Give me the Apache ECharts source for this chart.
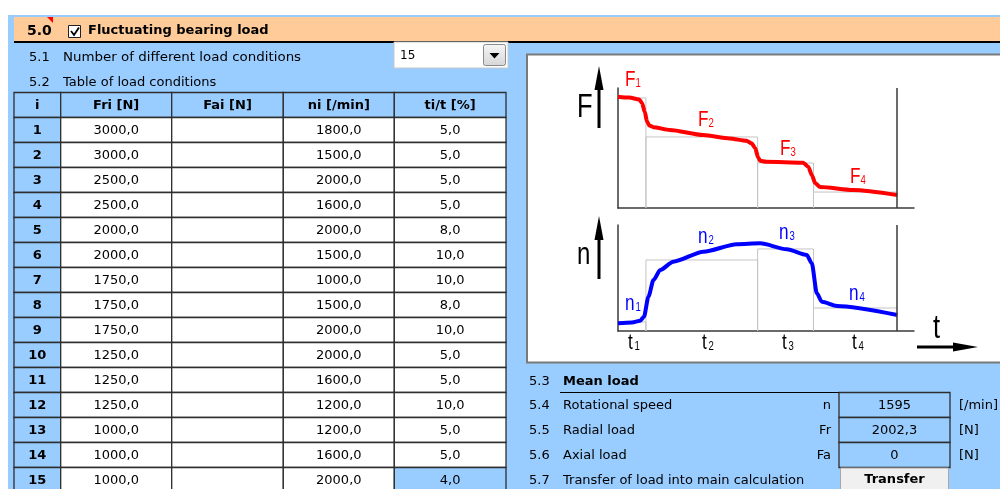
<!DOCTYPE html>
<html><head><meta charset="utf-8">
<script src="https://cdn.jsdelivr.net/npm/echarts/dist/echarts.min.js"></script>
<style>html,body{margin:0;padding:0;background:#fff}#c{width:1000px;height:489px}</style>
</head><body><div id="c"></div>
<script>
// ---------- data ----------
const headers = ['i', 'Fri [N]', 'Fai [N]', 'ni [/min]', 'ti/t [%]'];
const rowIndex = [1, 2, 3, 4, 5, 6, 7, 8, 9, 10, 11, 12, 13, 14, 15];
const radialLoads = [3000, 3000, 2500, 2500, 2000, 2000, 1750, 1750, 1750, 1250, 1250, 1250, 1000, 1000, 1000];
const axialLoads = [null, null, null, null, null, null, null, null, null, null, null, null, null, null, null];
const speeds = [1800, 1500, 2000, 1600, 2000, 1500, 1000, 1500, 2000, 2000, 1600, 1200, 1200, 1600, 2000];
const timeShares = [5, 5, 5, 5, 8, 10, 10, 8, 10, 5, 5, 10, 5, 5, 4];
const loadConditionCount = '15';

// schematic diagram (time in % of cycle, value in % of axis height)
const stepBounds = [0, 10, 50, 70, 100];
const forceLevels = [91.7, 59.2, 37.5, 13.3];
const speedLevels = [8.5, 67, 77.4, 21.7];
const forceCurve = [[0, 92.8], [4, 92], [7.6, 90.5], [8.6, 87.5], [9.6, 80], [10.4, 72], [11.2, 68.8], [12.7, 67.3], [18.6, 65], [30.5, 60.8], [40, 58], [46, 56], [47.8, 54], [49.1, 50], [50.2, 42], [50.9, 39.4], [53, 38.5], [66.3, 37.8], [68.1, 34.4], [69.5, 27], [70.6, 20.8], [72.4, 17.5], [84.2, 15], [100, 10.8]];
const speedCurve = [[0, 7.3], [5, 8], [7.9, 9.7], [9.3, 13.5], [10.9, 32.4], [12.7, 48.1], [15.1, 57.5], [19.8, 65.4], [30.6, 74.8], [42.5, 81.8], [50.9, 82.7], [60.5, 77.1], [67.6, 71.7], [69.4, 63.9], [71.2, 35.6], [73, 27.6], [78.4, 23.6], [100, 15.1]];
const phaseSubscripts = ['1', '2', '3', '4'];

// mean load results
const meanLabels = ['Rotational speed', 'Radial load', 'Axial load'];
const meanSymbols = ['n', 'Fr', 'Fa'];
const meanValues = ['1595', '2002,3', '0'];
const meanUnits = ['[/min]', '[N]', '[N]'];

// ---------- helpers ----------
const UI = "'DejaVu Sans', Verdana, sans-serif";
const NAR = "'Liberation Sans', Arial, sans-serif";
const BLUE = '#99CCFF', ORANGE = '#FFCC99', GRID = '#2e2e2e';
const G = [];
function rect(x, y, w, h, fill, stroke, lw, z) {
  G.push({type: 'rect', z: z == null ? -5 : z, shape: {x, y, width: w, height: h}, style: {fill, stroke: stroke || null, lineWidth: lw || 0}});
}
function line(x1, y1, x2, y2, stroke, lw, z) {
  G.push({type: 'line', z: z == null ? -4 : z, shape: {x1, y1, x2, y2}, style: {stroke, lineWidth: lw}});
}
function poly(points, fill, z) {
  G.push({type: 'polygon', z: z == null ? 6 : z, shape: {points}, style: {fill}});
}
function text(t, x, y, font, opts) {
  opts = opts || {};
  G.push({type: 'text', z: 8, x, y, scaleX: opts.sx || 1, style: {text: t, x: 0, y: 0, font, fill: opts.fill || '#000',
    textAlign: opts.align || 'left', align: opts.align || 'left', textVerticalAlign: 'middle', verticalAlign: 'middle'}});
}
const fmt1 = v => v == null ? '' : v.toFixed(1).replace('.', ',');

// ---------- background / header ----------
rect(8, 15, 992, 474, BLUE, null, 0, -10);
rect(14, 17, 986, 24, ORANGE, null, 0, -9);
line(14, 42, 1000, 42, '#000', 2, -8);
poly([[47, 17], [53, 17], [53, 23]], '#FF0000', 7);
text('5.0', 27, 31, 'bold 14px ' + UI);
rect(68.5, 25.5, 12, 12, '#fff', '#222', 1, 6);
G.push({type: 'polyline', z: 7, shape: {points: [[71, 31], [74, 35], [79, 27.5]]}, style: {stroke: '#000', lineWidth: 1.8, fill: null}});
text('Fluctuating bearing load', 88, 31, 'bold 13px ' + UI);

text('5.1', 29, 58, '13px ' + UI);
text('Number of different load conditions', 63, 58, '13px ' + UI, {sx: 1.03});
rect(394, 42, 114, 26, '#fff', '#c8c8c8', 1, -3);
text(loadConditionCount, 400, 56, '12px ' + UI);
G.push({type: 'rect', z: -2, shape: {x: 483.5, y: 44.5, width: 22, height: 21, r: 2},
  style: {fill: new echarts.graphic.LinearGradient(0, 0, 0, 1, [{offset: 0, color: '#f6f6f6'}, {offset: 1, color: '#d6d6d6'}]), stroke: '#8a8a8a', lineWidth: 1}});
poly([[489.5, 53], [499.5, 53], [494.5, 58.5]], '#000', 7);
text('5.2', 29, 83, '13px ' + UI);
text('Table of load conditions', 63, 83, '13px ' + UI);

// ---------- table ----------
const colX = [14, 60.7, 171.7, 283.3, 394.3, 506];
const tableTop = 92.5, rowH = 25;
const cols = [rowIndex.map(String), radialLoads.map(fmt1), axialLoads.map(fmt1), speeds.map(fmt1), timeShares.map(fmt1)];
headers.forEach((h, c) => {
  rect(colX[c], tableTop, colX[c + 1] - colX[c], rowH, BLUE, GRID, 1.3, -3);
  text(h, (colX[c] + colX[c + 1]) / 2, tableTop + rowH / 2 + 0.5, 'bold 13px ' + UI, {align: 'center'});
});
rowIndex.forEach((r, i) => {
  const y = tableTop + rowH * (i + 1);
  cols.forEach((col, c) => {
    const blue = c === 0 || (c === 4 && i === rowIndex.length - 1);
    rect(colX[c], y, colX[c + 1] - colX[c], rowH, blue ? BLUE : '#fff', GRID, 1.3, -3);
    text(col[i], (colX[c] + colX[c + 1]) / 2, y + rowH / 2 + 0.5, (c === 0 ? 'bold ' : '') + '13px ' + UI, {align: 'center'});
  });
});

// ---------- diagram panel ----------
rect(527, 54.5, 480, 308, '#fff', '#7a7a7a', 2, -6);

// annotation texts
text('F', 577, 108, '34px ' + NAR, {sx: 0.75});
text('n', 577, 255, '32px ' + NAR, {sx: 0.75});
line(599, 128, 599, 80, '#000', 3, 6);
poly([[594.5, 90], [599, 66], [603.5, 90]], '#000', 7);
line(599, 279, 599, 230, '#000', 3, 6);
poly([[594.5, 240], [599, 216], [603.5, 240]], '#000', 7);
line(917, 347, 965, 347, '#000', 3, 6);
poly([[953, 342.5], [978, 347], [953, 351.5]], '#000', 7);
text('t', 933, 329, '34px ' + NAR, {sx: 0.75});

const fLab = [[625, 80], [698, 120], [780, 149], [850, 177]];
const nLab = [[625, 304], [698, 237], [779, 233], [849, 294]];
const tLab = [[628, 343], [702, 343], [782, 343], [852, 343]];
phaseSubscripts.forEach((s, i) => {
  text('F', fLab[i][0], fLab[i][1], '22px ' + NAR, {fill: '#FF0000', sx: 0.78});
  text(s, fLab[i][0] + 10.5, fLab[i][1] + 4, '12px ' + NAR, {fill: '#FF0000', sx: 0.8});
  text('n', nLab[i][0], nLab[i][1], '22px ' + NAR, {fill: '#0000FF', sx: 0.78});
  text(s, nLab[i][0] + 10.5, nLab[i][1] + 4, '12px ' + NAR, {fill: '#0000FF', sx: 0.8});
  text('t', tLab[i][0], tLab[i][1], '22px ' + NAR, {sx: 0.78});
  text(s, tLab[i][0] + 6.5, tLab[i][1] + 4, '12px ' + NAR, {sx: 0.8});
});

// ---------- mean load block ----------
text('5.3', 529, 382, '13px ' + UI);
text('Mean load', 563, 382, 'bold 13px ' + UI);
line(560, 392.5, 839, 392.5, '#000', 1, -2);
meanLabels.forEach((lab, i) => {
  const y = 392.5 + 25 * i;
  text('5.' + (4 + i), 529, y + 13, '13px ' + UI);
  text(lab, 563, y + 13, '13px ' + UI);
  text(meanSymbols[i], 831, y + 13, '13px ' + UI, {align: 'right'});
  rect(839, y, 111, 25, BLUE, GRID, 1.3, -3);
  text(meanValues[i], 894.5, y + 13, '13px ' + UI, {align: 'center'});
  text(meanUnits[i], 959, y + 13, '13px ' + UI);
});
text('5.7', 529, 481, '13px ' + UI);
text('Transfer of load into main calculation', 563, 481, '13px ' + UI);
rect(840.5, 468, 108, 26, '#f0f0f0', '#a8a8a8', 1, -3);
text('Transfer', 894.5, 480, 'bold 13px ' + UI, {align: 'center'});

// ---------- chart series ----------
function stepPath(levels) {
  const pts = [];
  levels.forEach((v, i) => {
    if (i > 0) pts.push([stepBounds[i], 0]);
    pts.push([stepBounds[i], v]);
    pts.push([stepBounds[i + 1], v]);
  });
  return pts;
}
const axisCol = '#3a3a3a';
const mkX = i => ({type: 'value', gridIndex: i, min: 0, max: 106,
  axisLine: {show: true, onZero: false, lineStyle: {color: axisCol, width: 1.5}},
  axisTick: {show: false}, axisLabel: {show: false}, splitLine: {show: false}});
const mkY = i => ({type: 'value', gridIndex: i, min: 0, max: 100,
  axisLine: {show: true, onZero: false, lineStyle: {color: axisCol, width: 1.5}},
  axisTick: {show: false}, axisLabel: {show: false}, splitLine: {show: false}});
const rightEdge = {silent: true, symbol: 'none', label: {show: false},
  lineStyle: {color: axisCol, width: 1.5, type: 'solid'}, data: [{xAxis: 100}]};

const option = {
  animation: false,
  grid: [
    {left: 618, top: 88, width: 296, height: 120},
    {left: 618, top: 225, width: 296, height: 106}
  ],
  xAxis: [mkX(0), mkX(1)],
  yAxis: [mkY(0), mkY(1)],
  graphic: G,
  series: [
    {type: 'line', xAxisIndex: 0, yAxisIndex: 0, data: stepPath(forceLevels), symbol: 'none', z: 1,
      lineStyle: {color: '#c4c4c4', width: 1}, markLine: rightEdge},
    {type: 'line', xAxisIndex: 0, yAxisIndex: 0, data: forceCurve, symbol: 'none', z: 3,
      smooth: 0.25, smoothMonotone: 'x', lineStyle: {color: '#FF0000', width: 4}},
    {type: 'line', xAxisIndex: 1, yAxisIndex: 1, data: stepPath(speedLevels), symbol: 'none', z: 1,
      lineStyle: {color: '#c4c4c4', width: 1}, markLine: rightEdge},
    {type: 'line', xAxisIndex: 1, yAxisIndex: 1, data: speedCurve, symbol: 'none', z: 3,
      smooth: 0.25, smoothMonotone: 'x', lineStyle: {color: '#0000FF', width: 4}}
  ]
};
const chart = echarts.init(document.getElementById('c'), null, {renderer: 'canvas'});
chart.setOption(option);
</script></body></html>
